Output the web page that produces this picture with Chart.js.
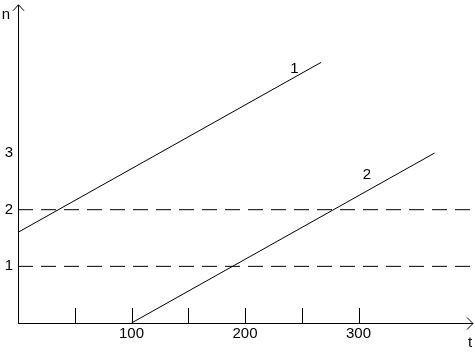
<!DOCTYPE html>
<html>
<head>
<meta charset="utf-8">
<script src="https://cdn.jsdelivr.net/npm/chart.js@4.4.1/dist/chart.umd.min.js"></script>
<style>
html, body { margin: 0; padding: 0; background: #fff; }
#wrap { width: 475px; height: 353px; }
</style>
</head>
<body>
<div id="wrap"><canvas id="chart" width="475" height="353"></canvas></div>
<script>
// --- data ---
const lineNames = ['1', '2'];
const line1T = [0, 267];
const line1N = [1.6, 4.6];
const line2T = [100, 367];
const line2N = [0, 3];
const levelN = [1, 2];
const tRange = [0, 400];
const nRange = [0, 5.6];
const tTicks = [50, 100, 150, 200, 250, 300];
const tLabels = [100, 200, 300];
const nLabels = [1, 2, 3];

const FONT = '"Liberation Sans", Arial, sans-serif';

function toPoints(ts, ns) {
    return ts.map((t, i) => ({ x: t, y: ns[i] }));
}

const datasets = [
    { label: lineNames[0], data: toPoints(line1T, line1N) },
    { label: lineNames[1], data: toPoints(line2T, line2N) }
];
levelN.forEach(n => {
    datasets.push({ label: 'level ' + n, data: toPoints(tRange, [n, n]), borderDash: [15, 8] });
});
datasets.forEach(d => {
    d.showLine = true;
    d.borderColor = '#000';
    d.borderWidth = 1;
    d.pointRadius = 0;
    d.fill = false;
});

// arrows, inner ticks and free labels
const decorations = {
    id: 'decorations',
    afterDraw(chart) {
        const ctx = chart.ctx;
        const a = chart.chartArea;
        const xs = chart.scales.x, ys = chart.scales.y;
        ctx.save();
        ctx.strokeStyle = '#000';
        ctx.lineWidth = 1;

        // arrow heads
        ctx.beginPath();
        ctx.moveTo(a.left - 5, a.top + 5);
        ctx.lineTo(a.left + 0.5, a.top - 1);
        ctx.lineTo(a.left + 6, a.top + 5);
        ctx.moveTo(a.right - 5, a.bottom - 5.5);
        ctx.lineTo(a.right + 1, a.bottom + 0.5);
        ctx.lineTo(a.right - 5, a.bottom + 6.5);
        ctx.stroke();

        // tick marks pointing up
        ctx.beginPath();
        tTicks.forEach(t => {
            const px = Math.round(xs.getPixelForValue(t)) + 0.5;
            ctx.moveTo(px, a.bottom);
            ctx.lineTo(px, a.bottom - 15);
        });
        ctx.stroke();

        // axis names and line numbers
        ctx.fillStyle = '#000';
        ctx.font = '15px ' + FONT;
        ctx.textAlign = 'center';
        ctx.textBaseline = 'alphabetic';
        ctx.fillText('n', 6, 19);
        ctx.fillText('t', 470, 347);
        ctx.fillText(lineNames[0], xs.getPixelForValue(243.5), ys.getPixelForValue(4.41));
        ctx.fillText(lineNames[1], xs.getPixelForValue(307.5), ys.getPixelForValue(2.55));
        ctx.restore();
    }
};

new Chart(document.getElementById('chart'), {
    type: 'scatter',
    data: { datasets: datasets },
    options: {
        responsive: false,
        animation: false,
        layout: { padding: { top: 5, right: 3, left: 0, bottom: 0 } },
        plugins: { legend: { display: false }, tooltip: { enabled: false } },
        scales: {
            x: {
                type: 'linear',
                min: tRange[0], max: tRange[1],
                grid: { display: false, drawTicks: false },
                border: { display: true, color: '#000', width: 1 },
                afterBuildTicks: s => { s.ticks = tLabels.map(v => ({ value: v })); },
                afterFit: s => { s.height = 30; },
                ticks: {
                    padding: 2,
                    maxRotation: 0,
                    autoSkip: false,
                    color: '#000',
                    font: { family: FONT, size: 15 }
                }
            },
            y: {
                type: 'linear',
                min: nRange[0], max: nRange[1],
                grid: { display: false, drawTicks: false },
                border: { display: true, color: '#000', width: 1 },
                afterBuildTicks: s => { s.ticks = nLabels.map(v => ({ value: v })); },
                afterFit: s => { s.width = 18; },
                ticks: {
                    padding: 5,
                    autoSkip: false,
                    color: '#000',
                    font: { family: FONT, size: 15, lineHeight: 0.1 }
                }
            }
        }
    },
    plugins: [decorations]
});
</script>
</body>
</html>
